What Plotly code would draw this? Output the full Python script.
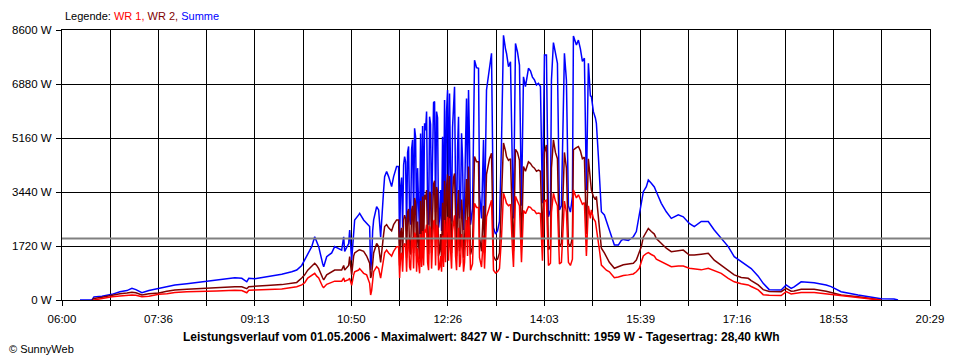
import plotly.graph_objects as go

# ---------------- data ----------------
# morning: 06:18 - 11:37
times_morning = [
    "06:18", "06:30", "06:32", "06:40", "06:50", "06:58", "07:05", "07:10", "07:14", "07:20",
    "07:27", "07:37", "07:45", "07:53", "08:05", "08:20", "08:35", "08:53", "09:00", "09:05",
    "09:07", "09:13", "09:25", "09:40", "09:50", "09:55", "10:00", "10:03", "10:06", "10:10",
    "10:13", "10:15", "10:17", "10:21", "10:22", "10:25", "10:30", "10:33", "10:40", "10:42",
    "10:43", "10:47", "10:48", "10:50", "10:52", "10:53", "10:57", "10:58", "11:02", "11:05",
    "11:08", "11:09", "11:10", "11:11", "11:12", "11:15", "11:17", "11:19", "11:21", "11:22",
    "11:23", "11:25", "11:27", "11:30", "11:32", "11:35", "11:37",
]
summe_morning = [
    0, 0, 100, 120, 180, 260, 300, 370, 330, 230,
    300, 370, 420, 480, 520, 580, 620, 710, 690, 580,
    690, 680, 740, 820, 900, 955, 1100, 1270, 1450, 1700,
    2015, 1860, 1700, 1150, 1060, 1380, 1500, 1700, 1590, 2015,
    1550, 1800, 2230, 1270, 2400, 2550, 2710, 2760, 2550, 2440,
    2340, 955, 1270, 2200, 2550, 2970, 2870, 2000, 3200, 3500,
    3930, 4090, 3930, 3610, 3930, 4250, 4250,
]
wr2_morning = [
    None, 0, 50, 90, 160, 200, 220, 245, 230, 160,
    200, 225, 280, 320, 340, 370, 390, 425, 420, 360,
    425, 430, 460, 490, 530, 560, 700, 800, 950, 1080,
    1170, 1100, 1000, 700, 640, 800, 900, 955, 955, 1100,
    955, 1100, 1380, 800, 1400, 1500, 1590, 1600, 1550, 1400,
    1170, 700, 800, 1200, 1500, 1800, 1700, 1200, 2000, 2100,
    2340, 2400, 2300, 2200, 2400, 2550, 2550,
]
wr1_morning = [
    None, None, 0, 50, 105, 130, 150, 160, 150, 105,
    120, 180, 200, 240, 260, 265, 290, 310, 300, 230,
    310, 320, 330, 350, 400, 420, 480, 550, 700, 780,
    850, 760, 700, 420, 400, 500, 560, 600, 600, 700,
    600, 650, 690, 470, 800, 900, 955, 1000, 850, 800,
    530, 160, 300, 700, 900, 1060, 1000, 700, 1200, 1300,
    1500, 1590, 1500, 1400, 1550, 1700, 1700,
]

# noon (cloud flicker, one reading per minute): 11:38 - 12:49
times_noon = [
    "11:38", "11:39", "11:40", "11:41", "11:42", "11:43", "11:44", "11:45", "11:46", "11:47",
    "11:48", "11:49", "11:50", "11:51", "11:52", "11:53", "11:54", "11:55", "11:56", "11:57",
    "11:58", "11:59", "12:00", "12:01", "12:02", "12:03", "12:04", "12:05", "12:06", "12:07",
    "12:08", "12:09", "12:10", "12:11", "12:12", "12:13", "12:14", "12:15", "12:16", "12:17",
    "12:18", "12:19", "12:20", "12:21", "12:22", "12:23", "12:24", "12:25", "12:26", "12:27",
    "12:28", "12:29", "12:30", "12:31", "12:32", "12:33", "12:34", "12:35", "12:36", "12:37",
    "12:38", "12:39", "12:40", "12:41", "12:42", "12:43", "12:44", "12:45", "12:46", "12:47",
    "12:48", "12:49",
]
summe_noon = [
    1800, 3600, 3900, 2300, 4300, 4570, 4400, 2200, 4700, 4890,
    2600, 2400, 4800, 5100, 2500, 5470, 5200, 2300, 4200, 3000,
    2100, 5300, 2600, 5540, 2700, 5630, 5400, 6000, 3000, 2400,
    5840, 5600, 2500, 4500, 6290, 6320, 2800, 6000, 5800, 2300,
    2600, 3500, 2200, 5200, 2600, 6370, 3000, 6000, 6690, 3200,
    6580, 4000, 2500, 5500, 6530, 6790, 3500, 2300, 4800, 5840,
    2600, 3000, 5310, 4500, 2230, 3000, 5000, 6420, 3500, 6690,
    5000, 2400,
]
wr2_noon = [
    1100, 2150, 2300, 1350, 2550, 2700, 2600, 1350, 2800, 2900,
    1550, 1450, 2850, 3000, 1500, 3250, 3100, 1400, 2500, 1800,
    1300, 3150, 1550, 3300, 1600, 3350, 3200, 3500, 1800, 1450,
    3450, 3350, 1500, 2700, 3700, 3800, 1700, 3600, 3450, 1400,
    1550, 2100, 1300, 3100, 1550, 3800, 1800, 3600, 4000, 1900,
    3950, 2400, 1500, 3300, 3900, 4030, 2100, 1400, 2900, 3500,
    1550, 1800, 3200, 2700, 1350, 1800, 3000, 3850, 2100, 4250,
    3000, 1450,
]
wr1_noon = [
    700, 1450, 1500, 900, 1700, 1800, 1750, 900, 1850, 1950,
    1050, 950, 1900, 2000, 1000, 2150, 2050, 900, 1650, 1200,
    850, 2100, 1050, 2200, 1100, 2250, 2150, 2400, 1200, 950,
    2350, 2250, 1000, 1800, 2500, 2550, 1100, 2400, 2300, 950,
    1050, 1400, 900, 2050, 1050, 2550, 1200, 2400, 2650, 1250,
    2600, 1600, 1000, 2200, 2600, 2700, 1400, 950, 1900, 2300,
    1050, 1200, 2100, 1800, 900, 1200, 2000, 2550, 1400, 2650,
    2000, 950,
]

# afternoon / evening: 12:51 - 19:57
times_evening = [
    "12:51", "12:53", "12:55", "12:57", "12:58",
    "13:00", "13:02", "13:03", "13:05", "13:08", "13:10", "13:12", "13:14", "13:16", "13:18",
    "13:20", "13:22", "13:24", "13:25", "13:27", "13:29", "13:31", "13:32", "13:34", "13:36",
    "13:38", "13:40", "13:42", "13:44", "13:47", "13:49", "13:51", "13:53", "13:55", "13:57",
    "13:59", "14:01", "14:03", "14:05", "14:07", "14:09", "14:10", "14:12", "14:14", "14:16",
    "14:18", "14:20", "14:23", "14:25", "14:27", "14:29", "14:31", "14:32", "14:35", "14:37",
    "14:39", "14:41", "14:43", "14:45", "14:47", "14:49", "14:50", "14:52", "14:54", "14:55",
    "14:57", "14:58", "15:00", "15:03", "15:05", "15:08", "15:13", "15:17", "15:20", "15:22",
    "15:27", "15:32", "15:35", "15:38", "15:40", "15:42", "15:45", "15:47", "15:50", "15:53",
    "15:55", "16:00", "16:05", "16:10", "16:17", "16:22", "16:28", "16:33", "16:40", "16:47",
    "16:53", "17:00", "17:07", "17:13", "17:20", "17:27", "17:30", "17:37", "17:42", "17:48",
    "18:00", "18:05", "18:10", "18:13", "18:20", "18:33", "18:45", "18:50", "19:00", "19:17",
    "19:33", "19:40", "19:53", "19:57",
]
summe_evening = [
    2900, 7640, 7400, 7380, 3400,
    2600, 5100, 2500, 6690, 7480, 7860, 2300, 2100, 2200, 2500,
    5000, 8430, 8000, 7860, 7430, 7590, 4000, 2600, 8170, 7900,
    7480, 3000, 7110, 6800, 7380, 7300, 7100, 7010, 6850, 6900,
    6800, 3080, 7800, 7800, 2650, 2870, 7000, 8200, 7870, 7540,
    2870, 3000, 7860, 7000, 3000, 2800, 3290, 8410, 8120, 8280,
    8000, 7600, 7700, 3500, 7540, 6500, 6480, 6000, 5800, 5630,
    4570, 3930, 2810, 2710, 2500, 2230, 1750, 1750, 1900, 1930,
    1900, 2015, 2180, 2710, 3180, 3450, 3610, 3820, 3720, 3600,
    3450, 3080, 2810, 2600, 2710, 2650, 2440, 2340, 2500, 2500,
    2230, 1960, 1700, 1380, 1220, 1060, 1000, 760, 530, 330,
    320, 480, 370, 420, 580, 550, 480, 425, 265, 160,
    85, 40, 30, 0,
]
wr2_evening = [
    1700, 4570, 4400, 4400, 2000,
    1550, 3000, 1500, 4000, 4500, 4670, 1400, 1270, 1300, 1500,
    3000, 5000, 4750, 4570, 4450, 4500, 2400, 1550, 4800, 4700,
    4450, 1800, 4250, 4100, 4400, 4350, 4250, 4200, 4100, 4140,
    4100, 1850, 4700, 4940, 1600, 1700, 4200, 5100, 4700, 4500,
    1700, 1800, 4700, 4200, 1800, 1700, 2000, 4780, 4850, 4890,
    4750, 4500, 4550, 2100, 4500, 3900, 3500, 3300, 3200, 3300,
    2650, 2300, 1650, 1500, 1380, 1200, 1010, 1060, 1110, 1120,
    1150, 1170, 1270, 1500, 1700, 2000, 2200, 2280, 2180, 2100,
    1960, 1800, 1650, 1540, 1570, 1590, 1430, 1430, 1460, 1490,
    1270, 1100, 955, 800, 720, 690, 620, 480, 330, 270,
    265, 370, 280, 290, 340, 340, 280, 245, 160, 105,
    30, 0, None, None,
]
wr1_evening = [
    1150, 3080, 2950, 2950, 1350,
    1050, 2050, 1000, 2650, 3000, 3180, 950, 860, 900, 1000,
    2000, 3400, 3200, 3080, 3000, 3050, 1600, 1050, 3300, 3150,
    3000, 1200, 2850, 2750, 2970, 2950, 2870, 2850, 2750, 2770,
    2750, 1250, 3150, 3180, 1100, 1170, 2800, 3400, 3150, 3000,
    1150, 1200, 3150, 2800, 1200, 1100, 1300, 3500, 3250, 3350,
    3200, 3050, 3100, 1400, 3000, 2600, 2870, 2600, 2500, 2300,
    1800, 1600, 1110, 1000, 950, 900, 710, 730, 760, 780,
    800, 830, 900, 1010, 1220, 1400, 1480, 1510, 1450, 1400,
    1300, 1220, 1120, 1060, 1080, 1080, 1010, 980, 960, 1010,
    930, 850, 690, 580, 520, 480, 430, 320, 170, 150,
    140, 265, 190, 200, 235, 235, 190, 160, 120, 80,
    20, 0, None, None,
]

times = times_morning + times_noon + times_evening
summe = summe_morning + summe_noon + summe_evening   # "Summe" (blue)
wr2 = wr2_morning + wr2_noon + wr2_evening           # "WR 2" (dark red)
wr1 = wr1_morning + wr1_noon + wr1_evening           # "WR 1" (red)
assert len(times) == len(summe) == len(wr2) == len(wr1)

average_w = 1959
y_ticks = [0, 1720, 3440, 5160, 6880, 8600]
x_tick_labels = ["06:00", "07:36", "09:13", "10:50", "12:26",
                 "14:03", "15:39", "17:16", "18:53", "20:29"]

legend_text = ("Legende: <span style='color:#FF0000'>WR 1,</span> "
               "<span style='color:#800000'>WR 2,</span> "
               "<span style='color:#0000FF'>Summe</span>")
title_text = ("<b>Leistungsverlauf vom 01.05.2006 - Maximalwert: 8427 W - "
              "Durchschnitt: 1959 W - Tagesertrag: 28,40 kWh</b>")
copyright_text = "© SunnyWeb"

# ---------------- helpers ----------------
def to_min(t):
    h, m = t.split(":")
    return (int(h) - 6) * 60 + int(m)

x = [to_min(t) for t in times]
x_end = to_min(x_tick_labels[-1])
n_int = 2 * (len(x_tick_labels) - 1)
grid_vals = [x_end * i / n_int for i in range(n_int + 1)]
grid_text = [x_tick_labels[i // 2] if i % 2 == 0 else "" for i in range(n_int + 1)]

FONT = "Liberation Sans, Arial, sans-serif"

fig = go.Figure()
for name, vals, col in [("Summe", summe, "#0000FF"),
                        ("WR 2", wr2, "#800000"),
                        ("WR 1", wr1, "#FF0000")]:
    fig.add_trace(go.Scatter(x=x, y=vals, mode="lines", name=name,
                             line=dict(color=col, width=1.5),
                             connectgaps=False, hoverinfo="skip"))

fig.add_shape(type="line", xref="x", yref="y", x0=0, x1=x_end,
              y0=average_w, y1=average_w,
              line=dict(color="#808080", width=2), layer="above")

axis_common = dict(showgrid=True, gridcolor="black", gridwidth=1,
                   ticks="outside", ticklen=5, tickcolor="black", tickwidth=1,
                   showline=True, linecolor="black", linewidth=1, mirror=True,
                   zeroline=False)

fig.update_layout(
    width=960, height=360,
    margin=dict(l=60, r=30, t=30, b=60, pad=0),
    plot_bgcolor="white", paper_bgcolor="white",
    showlegend=False,
    xaxis=dict(range=[0, x_end], tickmode="array", tickvals=grid_vals,
               ticktext=grid_text, ticklabelstandoff=3,
               tickfont=dict(family=FONT, size=11.5, color="black"),
               **axis_common),
    yaxis=dict(range=[0, y_ticks[-1]], tickmode="array", tickvals=y_ticks,
               ticktext=[f"{v} W" for v in y_ticks], ticklabelstandoff=2,
               tickfont=dict(family=FONT, size=11.5, color="black"),
               **axis_common),
    annotations=[
        dict(text=legend_text, xref="paper", yref="paper", x=0.001, y=1.052,
             xanchor="left", yanchor="middle", showarrow=False,
             font=dict(family=FONT, size=11, color="black")),
        dict(text=title_text, xref="paper", yref="paper", x=0.4828, y=-0.137,
             xanchor="center", yanchor="middle", showarrow=False,
             font=dict(family=FONT, size=12, color="black")),
        dict(text=copyright_text, xref="paper", yref="paper", x=-0.0632, y=-0.1815,
             xanchor="left", yanchor="middle", showarrow=False,
             font=dict(family=FONT, size=11, color="black")),
    ],
)

fig.write_html("out.html",
               config={"displayModeBar": False, "staticPlot": True},
               post_script="document.body.style.margin='0';"
                           "document.body.style.overflow='hidden';")
